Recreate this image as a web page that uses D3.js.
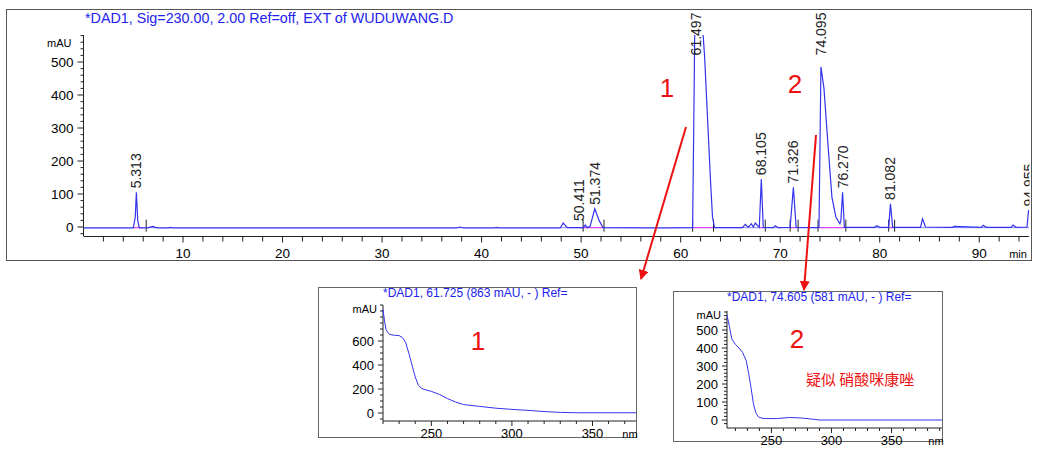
<!DOCTYPE html>
<html><head><meta charset="utf-8">
<script src="https://cdn.jsdelivr.net/npm/d3@7"></script>
<style>body{margin:0;background:#fff}svg{display:block;font-family:Arial,"Liberation Sans",sans-serif}</style>
</head><body><svg id="c" width="1037" height="451"></svg>
<script>
// Main chromatogram samples [min, mAU]
const chromTimes = [0,5.0,5.2,5.313,5.45,5.6,5.9,6.5,7.0,7.2,7.5,8.5,8.7,9,37.5,37.8,38.2,41.2,41.5,41.8,47.9,48.2,48.6,50.2,50.411,50.6,50.9,51.374,51.8,52.2,58,61.2,61.35,61.45,61.8,62.1,62.4,62.7,63.0,63.2,63.4,66.2,66.5,66.8,67.1,67.3,67.5,67.9,68.105,68.3,69.3,69.5,69.8,71.0,71.326,71.6,73.7,73.9,74.095,74.4,74.8,75.2,75.6,76.0,76.1,76.270,76.45,79.5,79.7,80.0,80.9,81.082,81.3,84.1,84.3,84.6,87.3,87.5,90.2,90.4,90.7,93.2,93.4,93.7,94.8,94.955,95];
const chromValues = [-3,-3,30,105,20,-2,-3,-2,2,-1,-3,-3,-1,-3,-3,0,-3,-3,-1,-3,-3,12,-2,-2,6,-2,2,55,20,-2,-3,-2,400,700,700,650,520,330,140,30,-2,-2,8,-1,10,0,12,-1,145,-1,-2,4,-2,-1,120,-1,-2,0,485,420,250,90,30,10,20,105,-1,-1,4,-1,-1,70,-1,-1,25,0,-1,2,-1,5,-1,-1,6,-1,0,50,50];
const peakLabels = ["5.313","50.411","51.374","61.497","68.105","71.326","74.095","76.270","81.082","94.955"];
const peakTimes = [5.313,50.411,51.374,61.497,68.105,71.326,74.095,76.270,81.082,94.955];
const peakHeights = [105,6,55,640,145,120,485,105,70,50];
const xTicksMain = [10,20,30,40,50,60,70,80,90];
const yTicksMain = [0,100,200,300,400,500];
// Spectrum 1
const spec1Nm = [220,221,222,224,227,230,232,234,236,238,240,242,244,246,250,255,260,265,270,280,290,300,310,320,330,340,377];
const spec1Au = [863,760,690,655,648,645,630,590,500,400,300,230,205,195,180,155,120,92,70,55,40,30,22,12,5,2,2];
const spec1Ticks = [0,200,400,600];
const spec1XTicks = [250,300,350];
// Spectrum 2
const spec2Nm = [213,215,217,220,223,226,229,231,233,235,237,239,242,245,255,265,275,285,290,392];
const spec2Au = [581,520,450,420,400,375,330,260,180,90,40,18,10,8,8,14,11,4,0,0];
const spec2Ticks = [0,100,200,300,400,500];
const spec2XTicks = [250,300,350];

const svg = d3.select("#c");
const blue="#3333ee", red="#ee1111";
svg.append("rect").attr("x",6.5).attr("y",9.5).attr("width",1025).attr("height",251).attr("fill","none").attr("stroke","#555");
const x = d3.scaleLinear().domain([0,95]).range([83.5,1029]);
const y = d3.scaleLinear().domain([0,500]).range([227,62]);
svg.append("text").attr("x",85).attr("y",23).attr("fill","#2222ee").attr("font-size",14.3).text("*DAD1, Sig=230.00, 2.00 Ref=off, EXT of WUDUWANG.D");
const ya = svg.append("g").attr("transform","translate(83.5,0)");
ya.append("line").attr("y1",35).attr("y2",236).attr("stroke","#222");
d3.range(-20,581,20).forEach(v=>{ if(y(v)<35||y(v)>236) return;
  const maj=v%100===0; ya.append("line").attr("x1",maj?-6:-3).attr("x2",0).attr("y1",y(v)).attr("y2",y(v)).attr("stroke","#222");});
yTicksMain.forEach(v=>ya.append("text").attr("x",-10).attr("y",y(v)+4.5).attr("text-anchor","end").attr("font-size",13.5).text(v));
ya.append("text").attr("x",-12).attr("y",47).attr("text-anchor","end").attr("font-size",11).text("mAU");
const xa = svg.append("g").attr("transform","translate(0,236.5)");
xa.append("line").attr("x1",83.5).attr("x2",1029).attr("stroke","#222");
d3.range(2,95,2).forEach(v=>xa.append("line").attr("x1",x(v)).attr("x2",x(v)).attr("y1",0).attr("y2",v%10===0?6:5).attr("stroke","#222"));
xTicksMain.forEach(v=>xa.append("text").attr("x",x(v)).attr("y",21).attr("text-anchor","middle").attr("font-size",13.5).text(v));
xa.append("text").attr("x",1018).attr("y",21).attr("text-anchor","middle").attr("font-size",11).text("min");
svg.append("clipPath").attr("id","cp").append("rect").attr("x",83.5).attr("y",35).attr("width",946).attr("height",201);
svg.append("clipPath").attr("id","cl").append("rect").attr("x",83.5).attr("y",10).attr("width",946).attr("height",226);
const g = svg.append("g").attr("clip-path","url(#cp)");
g.append("line").attr("x1",x(0)).attr("x2",x(95)).attr("y1",y(-2)).attr("y2",y(-2)).attr("stroke","#8888ff").attr("stroke-width",1);
[[5.0,6.0],[50.2,52.3],[61.2,63.3],[67.9,68.5],[71.0,71.8],[73.8,76.6],[80.9,81.5]].forEach(d=>g.append("line").attr("x1",x(d[0])).attr("x2",x(d[1])).attr("y1",y(-2)).attr("y2",y(-2)).attr("stroke","#ee33ee"));
[6.3,50.2,52.3,61.2,63.3,68.5,71.0,71.8,73.8,76.6,80.9,81.5].forEach(t=>g.append("line").attr("x1",x(t)).attr("x2",x(t)).attr("y1",y(-2)-8).attr("y2",y(-2)+4).attr("stroke","#222"));
const line = d3.line().x((d,i)=>x(chromTimes[i])).y((d,i)=>y(chromValues[i]));
g.append("path").attr("d",line(chromValues)).attr("fill","none").attr("stroke",blue).attr("stroke-width",1.2);
const lg = svg.append("g").attr("clip-path","url(#cl)");
peakTimes.forEach((t,i)=>{
  const yy = Math.max(y(Math.min(peakHeights[i],560))-4, 40);
  const px = x(t)+ (i===1?-6:0);
  lg.append("text").attr("transform",`translate(${px+5},${i===3||i===6?y(520):yy}) rotate(-90)`).attr("font-size",14).attr("fill","#222").text(peakLabels[i]);
});
svg.append("text").attr("x",667).attr("y",97).attr("fill",red).attr("font-size",26).attr("text-anchor","middle").text("1");
svg.append("text").attr("x",795).attr("y",93).attr("fill",red).attr("font-size",26).attr("text-anchor","middle").text("2");
const defs=svg.append("defs");
defs.append("marker").attr("id","ah").attr("viewBox","0 0 10 10").attr("refX",9).attr("refY",5).attr("markerWidth",5).attr("markerHeight",5).attr("orient","auto")
 .append("path").attr("d","M0,0L10,5L0,10z").attr("fill",red);
svg.append("line").attr("x1",686).attr("y1",127).attr("x2",641).attr("y2",279).attr("stroke",red).attr("stroke-width",2).attr("marker-end","url(#ah)");
svg.append("line").attr("x1",816).attr("y1",135).attr("x2",804).attr("y2",290).attr("stroke",red).attr("stroke-width",2).attr("marker-end","url(#ah)");

function inset(box, title, nm, au, xd, yd, xr, yr, yt, xt, yMinor){
  const s=svg.append("g");
  s.append("rect").attr("x",box[0]+.5).attr("y",box[1]+.5).attr("width",box[2]).attr("height",box[3]).attr("fill","none").attr("stroke","#666");
  s.append("text").attr("x",xr[0]).attr("y",box[1]+10).attr("fill","#2222ee").attr("font-size",12).text(title);
  const sx=d3.scaleLinear().domain(xd).range(xr), sy=d3.scaleLinear().domain(yd).range(yr);
  const top=yr[2];
  s.append("line").attr("x1",xr[0]).attr("x2",xr[0]).attr("y1",top).attr("y2",yr[0]+8).attr("stroke","#222");
  s.append("line").attr("x1",xr[0]).attr("x2",xr[1]).attr("y1",yr[0]+8).attr("y2",yr[0]+8).attr("stroke","#222");
  d3.range(yd[0]-yMinor, 1000, yMinor).forEach(v=>{const p=sy(v); if(p<top||p>yr[0]+8) return;
    s.append("line").attr("x1",xr[0]-(yt.includes(v)?5:3)).attr("x2",xr[0]).attr("y1",p).attr("y2",p).attr("stroke","#222");});
  yt.forEach(v=>s.append("text").attr("x",xr[0]-9).attr("y",sy(v)+4.5).attr("text-anchor","end").attr("font-size",13).text(v));
  s.append("text").attr("x",xr[0]-6).attr("y",top+8).attr("text-anchor","end").attr("font-size",11).text("mAU");
  d3.range(Math.ceil(xd[0]/10)*10, xd[1], 10).forEach(v=>s.append("line").attr("x1",sx(v)).attr("x2",sx(v)).attr("y1",yr[0]+8).attr("y2",yr[0]+(v%50===0?13:11)).attr("stroke","#222"));
  xt.forEach(v=>s.append("text").attr("x",sx(v)).attr("y",yr[0]+25).attr("text-anchor","middle").attr("font-size",13).text(v));
  s.append("text").attr("x",xr[1]-6).attr("y",yr[0]+25).attr("text-anchor","middle").attr("font-size",11).text("nm");
  s.append("path").attr("d",d3.line().x((d,i)=>sx(nm[i])).y(d=>sy(d))(au)).attr("fill","none").attr("stroke",blue).attr("stroke-width",1);
}
inset([318,287,318,150],"*DAD1, 61.725 (863 mAU, - ) Ref=",spec1Nm,spec1Au,[220,377],[0,600],[383,636],[413,341,305],spec1Ticks,spec1XTicks,50);
inset([673,291,269,150],"*DAD1, 74.605 (581 mAU, - ) Ref=",spec2Nm,spec2Au,[213,392],[0,500],[727,942],[420,330,311],spec2Ticks,spec2XTicks,20);
svg.append("text").attr("x",478).attr("y",350).attr("fill",red).attr("font-size",26).attr("text-anchor","middle").text("1");
svg.append("text").attr("x",797).attr("y",348).attr("fill",red).attr("font-size",26).attr("text-anchor","middle").text("2");
svg.append("text").attr("x",806).attr("y",385).attr("fill",red).attr("font-size",15).attr("font-family","Noto Sans CJK SC").text("疑似 硝酸咪康唑");
</script></body></html>
